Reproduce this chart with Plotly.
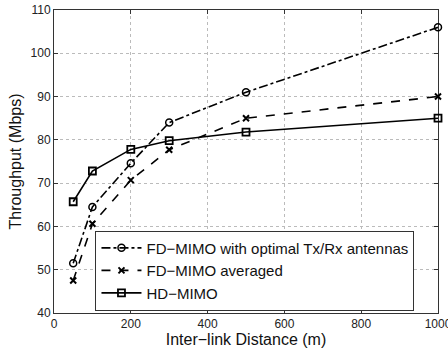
import plotly.graph_objects as go

distance = [50, 100, 200, 300, 500, 1000]
fd_optimal = [51.5, 64.5, 74.6, 84.0, 91.0, 106.0]
fd_averaged = [47.5, 60.6, 70.7, 77.7, 85.0, 90.0]
hd_mimo = [65.7, 72.8, 77.8, 79.8, 81.8, 85.0]

names = ["FD\u2212MIMO with optimal Tx/Rx antennas", "FD\u2212MIMO averaged", "HD\u2212MIMO"]

fig = go.Figure()
fig.add_trace(go.Scatter(x=distance, y=fd_optimal, name=names[0], mode="lines+markers", cliponaxis=False,
                         line=dict(color="black", width=1.6, dash="dashdot"),
                         marker=dict(symbol="circle-open", size=7, color="black", line=dict(width=1.5))))
fig.add_trace(go.Scatter(x=distance, y=fd_averaged, name=names[1], mode="lines+markers", cliponaxis=False,
                         line=dict(color="black", width=1.6, dash="dash"),
                         marker=dict(symbol="x-thin-open", size=6, color="black", line=dict(width=2))))
fig.add_trace(go.Scatter(x=distance, y=hd_mimo, name=names[2], mode="lines+markers", cliponaxis=False,
                         line=dict(color="black", width=1.6),
                         marker=dict(symbol="square-open", size=7, color="black", line=dict(width=1.8))))

axis_common = dict(showline=True, linecolor="#333", linewidth=1, mirror="ticks", ticks="inside",
                   ticklen=4, tickcolor="#333", showgrid=True, gridcolor="#bbb", griddash="dot",
                   gridwidth=1, zeroline=False, automargin=False, layer="below traces",
                   ticklabeloverflow="allow", tickfont=dict(size=12, color="#222"))

fig.update_layout(
    width=448, height=350,
    margin=dict(l=54, r=10, t=10, b=37),
    paper_bgcolor="white", plot_bgcolor="white",
    font=dict(family="Liberation Sans, Arial, sans-serif", color="#111"),
    xaxis=dict(range=[0, 1000], tickvals=[0, 200, 400, 600, 800, 1000],
               title=dict(text="Inter\u2212link Distance (m)", font=dict(size=16), standoff=2), **axis_common),
    yaxis=dict(range=[40, 110], tickvals=[40, 50, 60, 70, 80, 90, 100, 110],
               title=dict(text="Throughput (Mbps)", font=dict(size=16), standoff=4), **axis_common),
    legend=dict(x=0.108, y=0.272, xanchor="left", yanchor="top", bgcolor="white",
                bordercolor="#333", borderwidth=1, font=dict(size=15), tracegroupgap=0,
                itemwidth=40),
    showlegend=True,
)

fig.write_html("out.html", config={"displayModeBar": False})

# remove the default page margin so the figure fills the window exactly
with open("out.html", encoding="utf-8") as f:
    html = f.read()
html = html.replace("<head>", "<head><style>html,body{margin:0;padding:0;overflow:hidden}</style>", 1)
with open("out.html", "w", encoding="utf-8") as f:
    f.write(html)
